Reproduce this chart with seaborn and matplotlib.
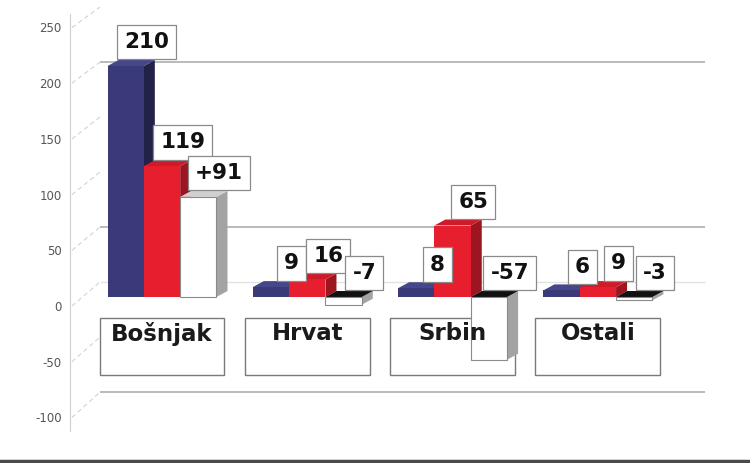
import numpy as np
import pandas as pd
import matplotlib
matplotlib.use("Agg")
import matplotlib.pyplot as plt
import seaborn as sns
from matplotlib.patches import Polygon, Rectangle
from matplotlib.lines import Line2D

# ---------------- data ----------------
categories = ["Bošnjak", "Hrvat", "Srbin", "Ostali"]
series = ["Serija 1", "Serija 2", "Razlika"]
values_1 = [210, 9, 8, 6]
values_2 = [119, 16, 65, 9]
difference = [91, -7, -57, -3]
y_ticks = [-100, -50, 0, 50, 100, 150, 200, 250]
grid_levels = [200, 50, -100]
faint_grid_levels = [0]

# ---------------- style ----------------
sns.set_style("white")
plt.rcParams["font.family"] = ["DejaVu Sans"]

front_colors = {"Serija 1": "#3a3a78", "Serija 2": "#e61e2e", "Razlika": "#ffffff"}
side_colors = ["#222248", "#9c1520", "#a3a3a3"]
top_colors = ["#46468a", "#d01a2a", "#d0d0d0"]
neg_top_color = "#111111"
heavy = dict(family=["DejaVu Sans"], weight="bold")

df = pd.concat([
    pd.DataFrame({"kategorija": categories, "serija": series[0], "vrijednost": values_1}),
    pd.DataFrame({"kategorija": categories, "serija": series[1], "vrijednost": values_2}),
    pd.DataFrame({"kategorija": categories, "serija": series[2], "vrijednost": difference}),
], ignore_index=True)

W, H = 750, 463
fig = plt.figure(figsize=(W / 100, H / 100), dpi=100)
ax = fig.add_axes([70 / W, 0, 680 / W, 1])

sns.barplot(data=df, x="kategorija", y="vrijednost", hue="serija",
            order=categories, hue_order=series, palette=front_colors,
            width=0.75, saturation=1, legend=False, ax=ax,
            edgecolor="none", linewidth=0, err_kws={"linewidth": 0})

PX_X = 145.3   # pixels per category
PX_Y = 1.1     # pixels per unit
x_left = (70 - 162) / PX_X
ax.set_xlim(x_left, (W - 162) / PX_X)
ax.set_ylim(-(H - 297) / PX_Y, 297 / PX_Y)

# axis spine placement first (this resets tick objects)
ax.spines["bottom"].set_position(("data", -19))
ax.spines["bottom"].set_color("none")

# pseudo-3D geometry
dx = 11 / PX_X
dy = 6 / PX_Y
back_shift = 13.6           # back wall offset (units)
wall_x0 = (100 - 162) / PX_X
wall_x1 = (705 - 162) / PX_X

def front(v):
    # position of front-plane tick (oblique projection)
    return (1.114 * v - 9) / PX_Y

for s_idx, cont in enumerate(ax.containers):
    for c_idx, bar in enumerate(cont):
        x0 = bar.get_x()
        w = bar.get_width()
        x1 = x0 + w
        y = bar.get_y()
        h = bar.get_height()
        top = max(y, y + h)
        bottom = min(y, y + h)
        z = 2 + (c_idx * 3 + s_idx) * 0.1
        bar.set_zorder(z + 0.05)
        if s_idx == 2:
            bar.set_edgecolor("#8a8a8a")
            bar.set_linewidth(0.8)
        side = Polygon([(x1, top), (x1 + dx, top + dy), (x1 + dx, bottom + dy), (x1, bottom)],
                       closed=True, facecolor=side_colors[s_idx], edgecolor="none", zorder=z)
        tcol = neg_top_color if h < 0 else top_colors[s_idx]
        tface = Polygon([(x0, top), (x0 + dx, top + dy), (x1 + dx, top + dy), (x1, top)],
                        closed=True, facecolor=tcol, edgecolor="none", zorder=z)
        ax.add_patch(side)
        ax.add_patch(tface)
        val = [values_1, values_2, difference][s_idx][c_idx]
        txt = f"{val:+d}" if s_idx == 2 else f"{val}"
        ax.annotate(txt, xy=(x0 + w / 2, top), xytext=(15, 17), textcoords="offset points",
                    ha="center", va="center", fontsize=15.5, color="#111111", zorder=10,
                    bbox=dict(boxstyle="square,pad=0.33", facecolor="white",
                              edgecolor="#8a8a8a", linewidth=0.9), **heavy)

# back wall gridlines and depth lines
for v in grid_levels:
    ax.hlines(v + back_shift, wall_x0, wall_x1, color="#b4b4b4", lw=1.3, zorder=0.5)
for v in faint_grid_levels:
    ax.hlines(v + back_shift, wall_x0, wall_x1, color="#e2e2e2", lw=1.0, zorder=0.5)
for v in y_ticks:
    ax.plot([x_left + 2 / PX_X, wall_x0], [front(v), v + back_shift],
            ls=(0, (4, 3)), color="#d2d2d2", lw=0.8, zorder=0.5)

# category label boxes
for i, _ in enumerate(categories):
    ax.add_patch(Rectangle((i - 0.43, -71), 0.86, 52, facecolor="white",
                           edgecolor="#7a7a7a", linewidth=1.0, zorder=1.5))

# x axis labels (on the floor)
ax.set_xticks(range(len(categories)))
ax.set_xticklabels(categories)
for lab in ax.get_xticklabels():
    lab.set_fontsize(16.5)
    lab.set_fontweight("bold")
    lab.set_family("DejaVu Sans")
    lab.set_color("#1a1a1a")
ax.tick_params(axis="x", length=0, pad=3)
ax.xaxis.set_zorder(5)
ax.set_xlabel("")
ax.set_ylabel("")

# y axis (front plane)
ax.set_yticks([front(v) for v in y_ticks])
ax.set_yticklabels([str(v) for v in y_ticks], fontsize=8.5, color="#555555")
ax.tick_params(axis="y", length=3, color="#aaaaaa", pad=3, width=0.8)
ax.spines["left"].set_bounds(front(-112), front(262))
ax.spines["left"].set_color("#d0d0d0")
for s in ["top", "right"]:
    ax.spines[s].set_visible(False)

fig.add_artist(Line2D([0, 1], [1 - 461 / H, 1 - 461 / H], transform=fig.transFigure,
                      color="#4a4a4a", lw=2.5))

fig.savefig("out.png", dpi=100)
